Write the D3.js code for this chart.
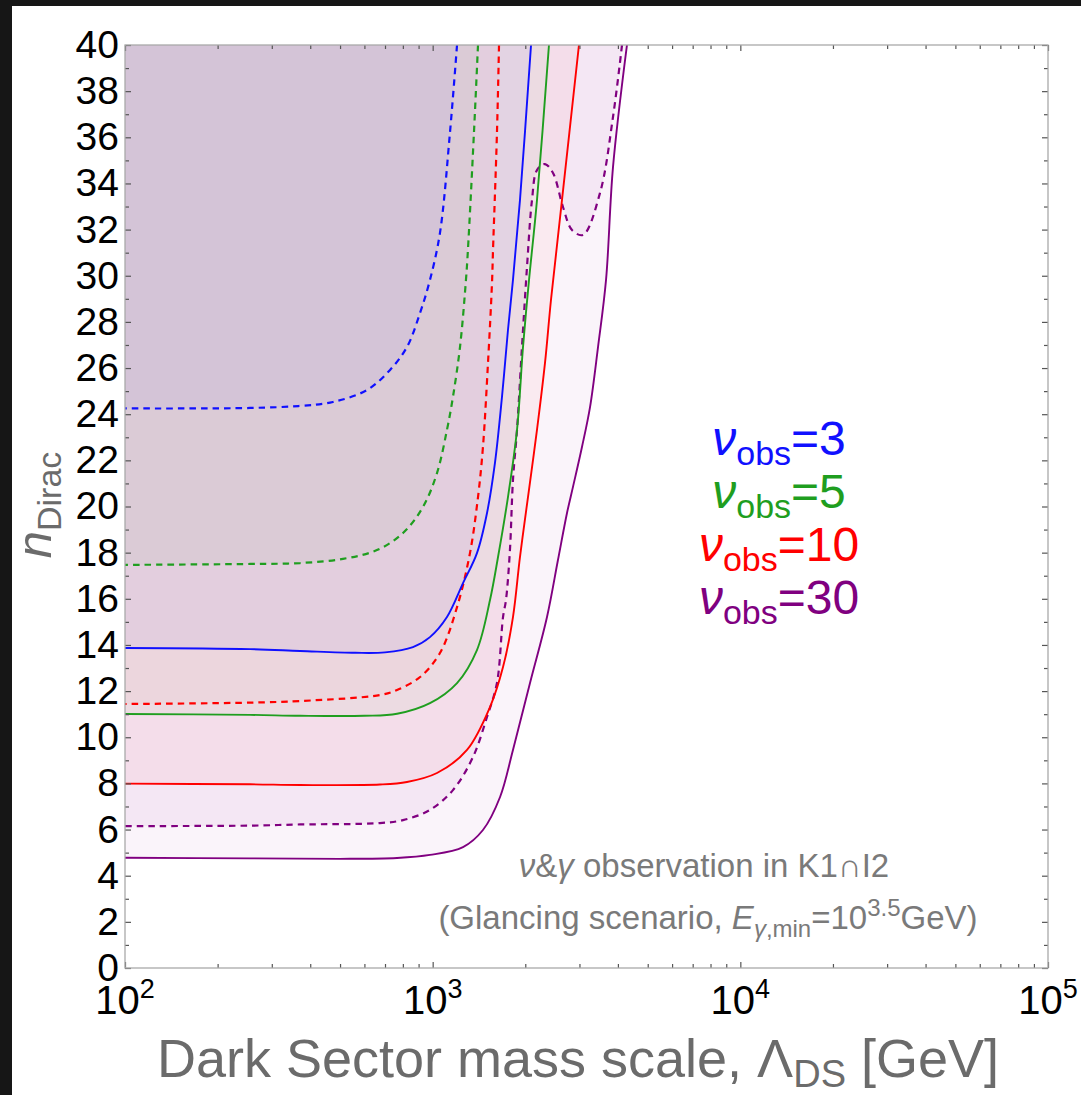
<!DOCTYPE html>
<html>
<head>
<meta charset="utf-8">
<script src="https://cdn.jsdelivr.net/npm/d3@7"></script>
<style>
  body { margin: 0; background: #161616; }
  svg { display: block; }
  text { font-family: "Liberation Sans", Arial, sans-serif; }
</style>
</head>
<body>
<svg id="chart" width="1081" height="1095"></svg>
<script>
// ---- axis values ----
const xTickValues = [100, 1000, 10000, 100000];
const xTickExponents = ["2", "3", "4", "5"];
const yTickValues = d3.range(0, 41, 2);
const yMinorValues = d3.range(1, 40, 2);

// ---- observed-event counts (legend) ----
const nuObs = ["3", "5", "10", "30"];

// ---- contour curves: [Λ_DS in GeV, n_Dirac], traced from n = 40 down to Λ = 100 GeV ----
const blueSolid = [[2088,40],[1922,33.28],[1824,29.82],[1757,27.65],[1680,24.75],[1594,21.89],[1502,19.72],[1393,17.98],[1255,16.68],[1113,15.21],[980,14.34],[863,13.91],[700,13.68],[560,13.66],[371,13.74],[255,13.82],[100,13.87]];
const blueDashed = [[1200,40],[1138,36.19],[1056,31.85],[980,29.82],[910,28.39],[825,26.91],[727,25.92],[612,25.05],[474,24.53],[371,24.36],[255,24.27],[100,24.25]];
const greenSolid = [[2388,40],[2183,33.28],[2057,29.82],[1966,26.91],[1880,23.32],[1757,20.41],[1631,17.81],[1536,15.95],[1393,13.78],[1200,12.35],[980,11.48],[766,11.02],[600,10.93],[371,10.93],[255,10.97],[100,11.01]];
const greenDashed = [[1404,40],[1362,36.19],[1302,31.12],[1283,29.82],[1227,26.91],[1164,24.75],[1113,23.32],[1033,21.45],[930,19.98],[801,18.85],[659,18.11],[511,17.73],[371,17.55],[255,17.51],[100,17.47]];
const redSolid = [[2989,40],[2632,33.28],[2424,28.95],[2318,26.22],[2183,23.32],[2041,20.41],[1922,17.81],[1824,15.21],[1693,13.04],[1536,11.31],[1293,9.45],[1033,8.45],[825,8.06],[674,7.95],[371,7.93],[255,7.96],[100,7.99]];
const redDashed = [[1643,40],[1618,36.19],[1571,31.12],[1559,29.69],[1513,26.22],[1457,22.58],[1404,20.41],[1322,17.98],[1200,15.64],[1056,13.65],[910,12.61],[766,12.05],[674,11.83],[371,11.57],[255,11.5],[100,11.44]];
const purpleSolid = [[4281,40],[3856,34.71],[3660,29.82],[3447,26.91],[3247,24.31],[3057,22.58],[2858,20.85],[2733,19.72],[2554,17.68],[2353,15.21],[2072,12.35],[1824,9.45],[1656,7.41],[1457,5.98],[1255,5.24],[980,4.90],[766,4.77],[500,4.73],[255,4.75],[100,4.78]];
const purpleDashed = [[4125,40],[3856,36.88],[3499,33.59],[3080,31.77],[2837,31.98],[2652,32.98],[2461,34.45],[2318,34.84],[2183,34.58],[2103,33.28],[2026,30.38],[1951,26.91],[1880,23.32],[1824,21.15],[1783,18.11],[1731,15.95],[1693,15.21],[1618,12.35],[1502,10.88],[1352,9.14],[1164,7.71],[980,6.85],[801,6.41],[674,6.28],[371,6.22],[255,6.17],[100,6.15]];

// ---- colours ----
const cBlue = "#1010ff", cGreen = "#1f9e1f", cRed = "#ff0000", cPurple = "#800080";

// region layers, painted outermost first
const layers = [
  { pts: purpleSolid,  color: cPurple, alpha: 0.045, dashed: false },
  { pts: purpleDashed, color: cPurple, alpha: 0.05,  dashed: true  },
  { pts: redSolid,     color: cRed,    alpha: 0.04,  dashed: false },
  { pts: greenSolid,   color: cGreen,  alpha: 0.035, dashed: false },
  { pts: redDashed,    color: cRed,    alpha: 0.02,  dashed: true  },
  { pts: blueSolid,    color: cBlue,   alpha: 0.04,  dashed: false },
  { pts: greenDashed,  color: cGreen,  alpha: 0.04,  dashed: true  },
  { pts: blueDashed,   color: cBlue,   alpha: 0.037, dashed: true  }
];

const W = 1081, H = 1095;
const plot = { left: 125, right: 1048, top: 45, bottom: 968 };

const svg = d3.select("#chart");
svg.append("rect").attr("x", 12).attr("y", 6).attr("width", W - 12).attr("height", H - 6).attr("fill", "#ffffff");

const x = d3.scaleLog().domain([100, 1e5]).range([plot.left, plot.right]);
const y = d3.scaleLinear().domain([0, 40]).range([plot.bottom, plot.top]);

svg.append("defs").append("clipPath").attr("id", "plotclip")
  .append("rect").attr("x", plot.left).attr("y", plot.top)
  .attr("width", plot.right - plot.left).attr("height", plot.bottom - plot.top);

const line = d3.line().x(d => x(d[0])).y(d => y(d[1])).curve(d3.curveCatmullRom.alpha(0.5));

const gPlot = svg.append("g").attr("clip-path", "url(#plotclip)");

// filled regions (left of / above each contour)
gPlot.selectAll("path.region").data(layers).join("path")
  .attr("class", "region")
  .attr("d", d => line(d.pts) + "L" + x(100) + "," + y(40) + "Z")
  .attr("fill", d => d.color)
  .attr("fill-opacity", d => d.alpha)
  .attr("stroke", "none");

// contour lines
gPlot.selectAll("path.contour").data(layers).join("path")
  .attr("class", "contour")
  .attr("d", d => line(d.pts))
  .attr("fill", "none")
  .attr("stroke", d => d.color)
  .attr("stroke-width", d => d.dashed ? 2.2 : 1.9)
  .attr("stroke-dasharray", d => d.dashed ? "6.5,5" : null);

// ---- frame and ticks ----
const tickColor = "#555555";
function styleAxis(g) {
  g.select(".domain").remove();
  g.selectAll(".tick line").attr("stroke", tickColor).attr("stroke-width", 1.2);
}
const xMinor = [];
[100, 1000, 10000].forEach(b => { for (let k = 2; k <= 9; k++) xMinor.push(b * k); });

// left
svg.append("g").attr("transform", `translate(${plot.left},0)`)
  .call(d3.axisLeft(y).tickValues(yTickValues).tickSize(-6).tickPadding(6))
  .call(styleAxis)
  .call(g => g.selectAll("text").attr("font-size", 39).attr("fill", "#000").attr("font-family", "Liberation Sans, Arial, sans-serif"));
svg.append("g").attr("transform", `translate(${plot.left},0)`)
  .call(d3.axisLeft(y).tickValues(yMinorValues).tickSize(-4).tickFormat(""))
  .call(styleAxis);
// right
svg.append("g").attr("transform", `translate(${plot.right},0)`)
  .call(d3.axisRight(y).tickValues(yTickValues).tickSize(-6).tickFormat(""))
  .call(styleAxis);
svg.append("g").attr("transform", `translate(${plot.right},0)`)
  .call(d3.axisRight(y).tickValues(yMinorValues).tickSize(-4).tickFormat(""))
  .call(styleAxis);
// bottom
svg.append("g").attr("transform", `translate(0,${plot.bottom})`)
  .call(d3.axisBottom(x).tickValues(xTickValues).tickSize(-6).tickFormat(""))
  .call(styleAxis);
svg.append("g").attr("transform", `translate(0,${plot.bottom})`)
  .call(d3.axisBottom(x).tickValues(xMinor).tickSize(-4).tickFormat(""))
  .call(styleAxis);
// top
svg.append("g").attr("transform", `translate(0,${plot.top})`)
  .call(d3.axisTop(x).tickValues(xTickValues).tickSize(-6).tickFormat(""))
  .call(styleAxis);
svg.append("g").attr("transform", `translate(0,${plot.top})`)
  .call(d3.axisTop(x).tickValues(xMinor).tickSize(-4).tickFormat(""))
  .call(styleAxis);

svg.append("rect")
  .attr("x", plot.left).attr("y", plot.top)
  .attr("width", plot.right - plot.left).attr("height", plot.bottom - plot.top)
  .attr("fill", "none").attr("stroke", "#aaaaaa").attr("stroke-width", 1.3);

// x tick labels: 10^k
const xLab = svg.append("g").selectAll("text").data(xTickValues).join("text")
  .attr("x", d => x(d))
  .attr("y", plot.bottom + 46)
  .attr("text-anchor", "middle")
  .attr("font-size", 40)
  .attr("fill", "#000");
xLab.append("tspan").text("10");
xLab.append("tspan").attr("dy", -16).attr("font-size", 27).text((d, i) => xTickExponents[i]);

// axis titles
const xTitle = svg.append("text")
  .attr("x", 578).attr("y", 1077)
  .attr("text-anchor", "middle")
  .attr("font-size", 54)
  .attr("fill", "#6b6b6b");
xTitle.append("tspan").text("Dark Sector mass scale, Λ");
xTitle.append("tspan").attr("dy", 10).attr("font-size", 38).text("DS");
xTitle.append("tspan").attr("dy", -10).text(" [GeV]");

const yTitle = svg.append("text")
  .attr("transform", "translate(51,505) rotate(-90)")
  .attr("text-anchor", "middle")
  .attr("font-size", 49)
  .attr("fill", "#6b6b6b");
yTitle.append("tspan").attr("font-style", "italic").text("n");
yTitle.append("tspan").attr("dy", 10).attr("font-size", 34).text("Dirac");

// legend
const legendColors = [cBlue, cGreen, cRed, cPurple];
const legendRows = svg.append("g").selectAll("text").data(nuObs).join("text")
  .attr("x", 779)
  .attr("y", (d, i) => 455 + i * 53)
  .attr("text-anchor", "middle")
  .attr("font-size", 48)
  .attr("fill", (d, i) => legendColors[i]);
legendRows.append("tspan").attr("font-style", "italic").text("ν");
legendRows.append("tspan").attr("dy", 10).attr("font-size", 34).text("obs");
legendRows.append("tspan").attr("dy", -10).text(d => "=" + d);

// annotation
const note = svg.append("g").attr("fill", "#7a7a7a").attr("font-size", 33);
const n1 = note.append("text").attr("x", 704).attr("y", 877).attr("text-anchor", "middle");
n1.append("tspan").attr("font-style", "italic").text("ν");
n1.append("tspan").text("&");
n1.append("tspan").attr("font-style", "italic").text("γ");
n1.append("tspan").text(" observation in K1∩I2");
const n2 = note.append("text").attr("x", 708).attr("y", 929).attr("text-anchor", "middle");
n2.append("tspan").text("(Glancing scenario, ");
n2.append("tspan").attr("font-style", "italic").text("E");
n2.append("tspan").attr("dy", 8).attr("font-size", 24).attr("font-style", "italic").text("γ");
n2.append("tspan").attr("font-size", 24).text(",min");
n2.append("tspan").attr("dy", -8).text("=10");
n2.append("tspan").attr("dy", -13).attr("font-size", 24).text("3.5");
n2.append("tspan").attr("dy", 13).text("GeV)");
</script>
</body>
</html>
